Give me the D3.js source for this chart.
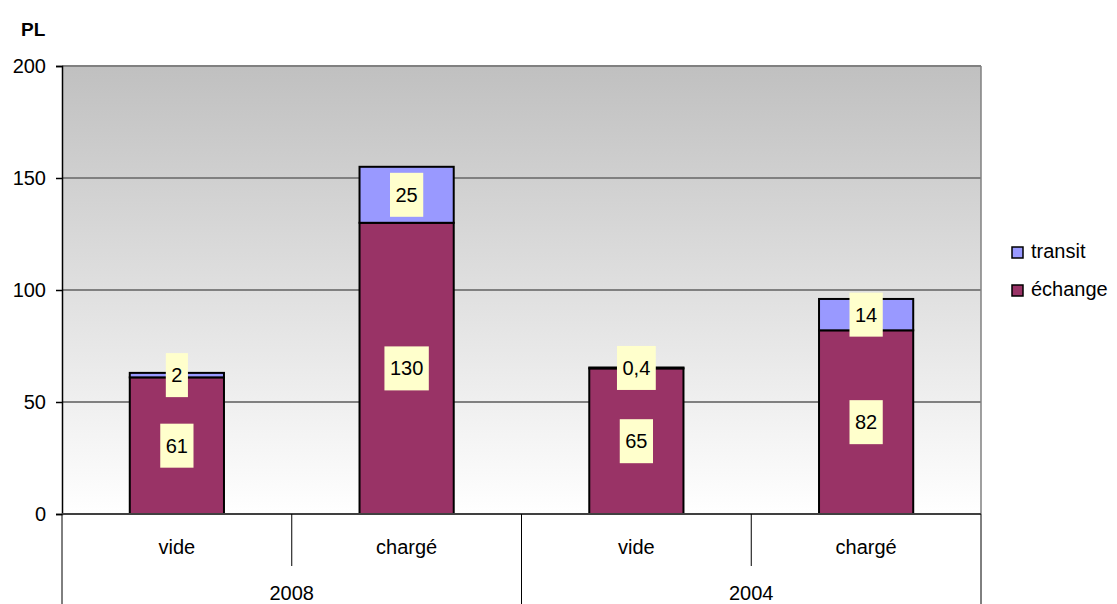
<!DOCTYPE html>
<html>
<head>
<meta charset="utf-8">
<script src="https://cdn.jsdelivr.net/npm/d3@7"></script>
<style>
  body { margin: 0; background: #fff; }
  svg { font-family: "Liberation Sans", Arial, sans-serif; }
</style>
</head>
<body>
<div id="container"></div>
<script>
// data
const years = ["2008", "2004"];
const states = ["vide", "chargé"];
const echange = [61, 130, 65, 82];
const transit = [2, 25, 0.4, 14];
const valueLabels = {
  echange: ["61", "130", "65", "82"],
  transit: ["2", "25", "0,4", "14"]
};
const yTicks = [0, 50, 100, 150, 200];

const w = 1117;
const h = 604;
const plotLeft = 62, plotRight = 981, plotTop = 66, plotBottom = 514;

const keys = [];
years.forEach(y => states.forEach(s => keys.push(y + "|" + s)));

const rows = keys.map((k, i) => ({ key: k, echange: echange[i], transit: transit[i], i: i }));
const stacked = d3.stack().keys(["echange", "transit"])(rows);

const xScale = d3.scaleBand()
  .domain(keys)
  .range([plotLeft, plotRight])
  .paddingInner(0.59)
  .paddingOuter(0.295);

const yScale = d3.scaleLinear()
  .domain([0, 200])
  .range([plotBottom, plotTop]);

const colors = { echange: "#993366", transit: "#9999ff" };

const svg = d3.select("#container")
  .append("svg")
  .attr("width", w)
  .attr("height", h);

// background gradient
const grad = svg.append("defs").append("linearGradient")
  .attr("id", "bg")
  .attr("x1", 0).attr("y1", 0).attr("x2", 0).attr("y2", 1);
grad.append("stop").attr("offset", "0%").attr("stop-color", "#c0c0c0");
grad.append("stop").attr("offset", "100%").attr("stop-color", "#ffffff");

svg.append("rect")
  .attr("x", plotLeft)
  .attr("y", plotTop)
  .attr("width", plotRight - plotLeft)
  .attr("height", plotBottom - plotTop)
  .attr("fill", "url(#bg)");

// gridlines
svg.append("g")
  .selectAll("line")
  .data(yTicks.filter(d => d > 0))
  .enter()
  .append("line")
  .attr("x1", plotLeft)
  .attr("x2", plotRight)
  .attr("y1", d => yScale(d))
  .attr("y2", d => yScale(d))
  .attr("stroke", "#808080")
  .attr("stroke-width", 2);

// right border
svg.append("line")
  .attr("x1", plotRight).attr("x2", plotRight)
  .attr("y1", plotTop).attr("y2", plotBottom)
  .attr("stroke", "#808080")
  .attr("stroke-width", 1.5);

// bars
svg.append("g")
  .selectAll("g")
  .data(stacked)
  .enter()
  .append("g")
  .attr("fill", d => colors[d.key])
  .selectAll("rect")
  .data(d => d)
  .enter()
  .append("rect")
  .attr("x", d => xScale(d.data.key))
  .attr("y", d => yScale(d[1]))
  .attr("width", xScale.bandwidth())
  .attr("height", d => yScale(d[0]) - yScale(d[1]))
  .attr("stroke", "#000")
  .attr("stroke-width", 2);

// value labels
const labels = svg.append("g");
stacked.forEach(series => {
  series.forEach(d => {
    const text = valueLabels[series.key][d.data.i];
    const cx = xScale(d.data.key) + xScale.bandwidth() / 2;
    const cy = yScale((d[0] + d[1]) / 2);
    const g = labels.append("g");
    const t = g.append("text")
      .attr("x", cx)
      .attr("y", cy + 7)
      .attr("text-anchor", "middle")
      .attr("font-size", 20)
      .attr("fill", "#000")
      .text(text);
    const tw = t.node().getComputedTextLength();
    g.insert("rect", "text")
      .attr("x", cx - tw / 2 - 5.5)
      .attr("y", cy - 22)
      .attr("width", tw + 11)
      .attr("height", 44)
      .attr("fill", "#ffffcc");
  });
});

// y axis
const yAxis = d3.axisLeft(yScale)
  .tickValues(yTicks)
  .tickSize(6)
  .tickPadding(10)
  .tickFormat(d3.format("d"));

svg.append("g")
  .attr("transform", "translate(" + plotLeft + ",0)")
  .call(yAxis)
  .call(g => g.select(".domain").attr("stroke", "#000").attr("stroke-width", 1.5))
  .call(g => g.selectAll(".tick line").attr("stroke", "#000").attr("stroke-width", 1.5))
  .call(g => g.selectAll(".tick text")
    .attr("font-size", 20)
    .attr("font-family", "Liberation Sans, Arial, sans-serif")
    .attr("fill", "#000"));

// x axis baseline
svg.append("line")
  .attr("x1", plotLeft).attr("x2", plotRight)
  .attr("y1", plotBottom).attr("y2", plotBottom)
  .attr("stroke", "#404040")
  .attr("stroke-width", 2);

// category separators
const step = xScale.step();
keys.forEach((k, i) => {
  if (i === 0) return;
  const x = xScale(k) - xScale.paddingInner() * step / 2;
  const isYear = i % states.length === 0;
  svg.append("line")
    .attr("x1", x).attr("x2", x)
    .attr("y1", plotBottom)
    .attr("y2", isYear ? h : 566)
    .attr("stroke", "#000")
    .attr("stroke-width", 1);
});
[plotLeft, plotRight].forEach(x => {
  svg.append("line")
    .attr("x1", x).attr("x2", x)
    .attr("y1", plotBottom).attr("y2", h)
    .attr("stroke", "#000")
    .attr("stroke-width", 1);
});

// category labels
svg.append("g")
  .selectAll("text")
  .data(keys)
  .enter()
  .append("text")
  .attr("x", d => xScale(d) + xScale.bandwidth() / 2)
  .attr("y", 554)
  .attr("text-anchor", "middle")
  .attr("font-size", 20)
  .text(d => d.split("|")[1]);

// year labels
svg.append("g")
  .selectAll("text")
  .data(years)
  .enter()
  .append("text")
  .attr("x", (d, i) => {
    const first = xScale(d + "|" + states[0]);
    const last = xScale(d + "|" + states[states.length - 1]);
    return (first + last + xScale.bandwidth()) / 2;
  })
  .attr("y", 600)
  .attr("text-anchor", "middle")
  .attr("font-size", 20)
  .text(d => d);

// y title
svg.append("text")
  .attr("x", 21)
  .attr("y", 36)
  .attr("font-size", 19)
  .attr("font-weight", "bold")
  .text("PL");

// legend
const legendItems = [
  { key: "transit", label: "transit" },
  { key: "echange", label: "échange" }
];
const legend = svg.append("g");
legendItems.forEach((d, i) => {
  const y = 247 + i * 38;
  legend.append("rect")
    .attr("x", 1012)
    .attr("y", y)
    .attr("width", 11)
    .attr("height", 11)
    .attr("fill", colors[d.key])
    .attr("stroke", "#000")
    .attr("stroke-width", 1.5);
  legend.append("text")
    .attr("x", 1031)
    .attr("y", y + 11)
    .attr("font-size", 20)
    .text(d.label);
});
</script>
</body>
</html>
